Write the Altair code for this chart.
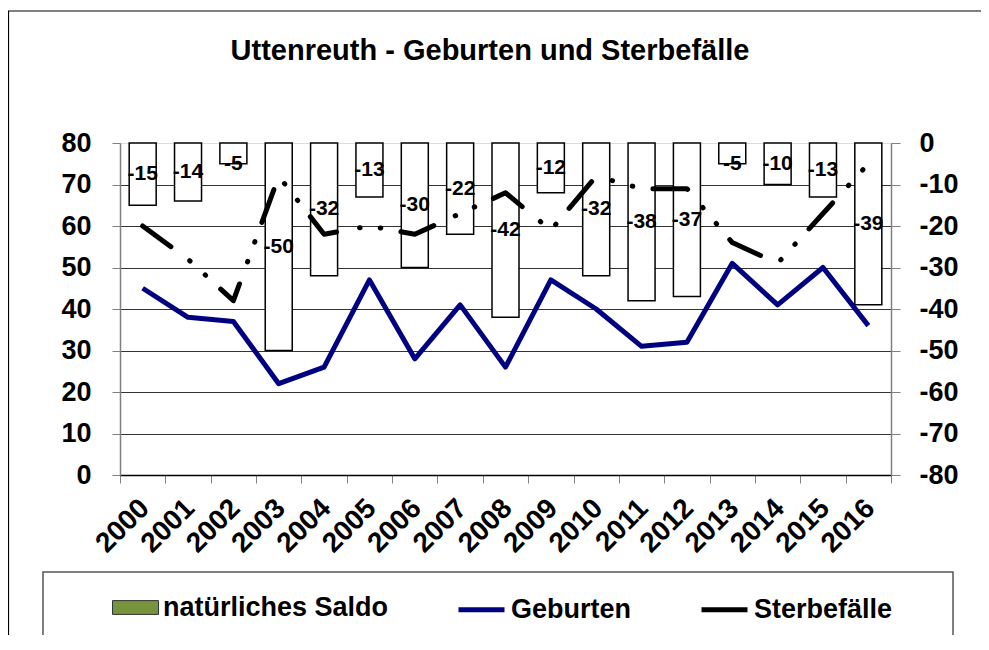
import altair as alt
import pandas as pd

# ---- data ----
jahre = ["2000", "2001", "2002", "2003", "2004", "2005", "2006", "2007", "2008",
         "2009", "2010", "2011", "2012", "2013", "2014", "2015", "2016"]
geburten = [45, 38, 37, 22, 26, 47, 28, 41, 26, 47, 40, 31, 32, 51, 41, 50, 36]
sterbefaelle = [60, 52, 42, 72, 58, 60, 58, 63, 68, 59, 72, 69, 69, 56, 51, 63, 75]
saldo = [-15, -14, -5, -50, -32, -13, -30, -22, -42, -12, -32, -38, -37, -5, -10, -13, -39]
saldo_name = ["natürliches Saldo"]
saldo_farbe = ["#77933C"]
linien = ["Geburten", "Sterbefälle"]
linien_farben = ["#000080", "#000000"]
links_ticks = [0, 10, 20, 30, 40, 50, 60, 70, 80]
rechts_ticks = [-80, -70, -60, -50, -40, -30, -20, -10, 0]
titel = "Uttenreuth  - Geburten und Sterbefälle"

df = pd.DataFrame({"Jahr": jahre, "Geburten": geburten,
                   "Sterbefaelle": sterbefaelle, "Saldo": saldo})

FONT = "Liberation Sans"
W, H = 771, 332

x_enc = alt.X(
    "Jahr:N", title=None, sort=jahre,
    scale=alt.Scale(paddingInner=0, paddingOuter=0),
    axis=alt.Axis(labelAngle=-45, labelAlign="right", labelBaseline="top",
                  labelFont=FONT, labelFontSize=28, labelFontWeight="bold",
                  labelColor="black", labelPadding=11, labelOffset=-8,
                  labelOverlap=False,
                  tickBand="extent", tickSize=8, tickColor="#808080",
                  domainColor="black", domainWidth=1.5, grid=False),
)

right_scale = alt.Scale(domain=[-80, 0], nice=False)
left_scale = alt.Scale(domain=[0, 80], nice=False)

right_axis = alt.Axis(orient="right", values=rechts_ticks,
                      labelExpr="'' + datum.value",
                      labelFont=FONT, labelFontSize=27, labelFontWeight="bold",
                      labelColor="black", labelPadding=19, tickSize=9,
                      tickColor="#808080", domainColor="#808080",
                      domainWidth=1.5, grid=False)

left_axis = alt.Axis(orient="left", values=links_ticks,
                     labelFont=FONT, labelFontSize=27, labelFontWeight="bold",
                     labelColor="black", labelPadding=21, tickSize=8,
                     tickColor="#808080", domainColor="#808080",
                     domainWidth=1.5, grid=True, gridColor="#333333",
                     gridWidth=1,
                     gridOpacity={"condition": {"test": "datum.value === 80 || datum.value === 0", "value": 0}, "value": 1})

bars = alt.Chart(df).mark_bar(
    fill="white", stroke="black", strokeWidth=1.5, size=27
).encode(
    x=x_enc,
    y=alt.Y("Saldo:Q", title=None, scale=right_scale, axis=right_axis),
)

# invisible copy of the bars that only carries the legend entry
bars_legend = alt.Chart(df).transform_calculate(Serie="'natürliches Saldo'").mark_bar(
    opacity=0, size=27
).encode(
    x=x_enc,
    y=alt.Y("Saldo:Q", title=None, scale=right_scale, axis=right_axis),
    fill=alt.Fill("Serie:N", scale=alt.Scale(domain=saldo_name, range=saldo_farbe),
                  legend=alt.Legend(
                      title=None, orient="none", legendX=-8, legendY=441,
                      labelFont=FONT, labelFontSize=27, labelFontWeight="bold",
                      labelColor="black", labelLimit=600, labelOffset=4,
                      symbolType="M-1,-0.3H1V0.3H-1Z", symbolSize=2116,
                      symbolStrokeColor="#333333", symbolStrokeWidth=1,
                      symbolOpacity=1, padding=0)),
)

labels = alt.Chart(df).transform_calculate(
    mid="min(datum.Saldo / 2, -5)", lbl="'' + datum.Saldo"
).mark_text(
    font=FONT, fontSize=21, fontWeight="bold", color="black", baseline="middle"
).encode(
    x=x_enc,
    y=alt.Y("mid:Q", title=None, scale=right_scale, axis=right_axis),
    text="lbl:N",
)

line_legend = alt.Legend(
    title=None, orient="none", legendX=336, legendY=441,
    direction="horizontal", columns=2, columnPadding=59,
    labelFont=FONT, labelFontSize=27, labelFontWeight="bold",
    labelColor="black", labelLimit=600, labelOffset=4,
    symbolSize=2116, symbolStrokeWidth=5, symbolType="stroke",
    symbolDash=[1, 0], padding=0,
)

color_enc = alt.Color("Serie:N", scale=alt.Scale(domain=linien, range=linien_farben),
                      legend=line_legend)

geb = alt.Chart(df).transform_calculate(Serie="'Geburten'").mark_line(
    strokeWidth=5, strokeJoin="round"
).encode(
    x=x_enc,
    y=alt.Y("Geburten:Q", title=None, scale=left_scale, axis=left_axis),
    color=color_enc,
)

ster = alt.Chart(df).transform_calculate(Serie="'Sterbefälle'").mark_line(
    strokeWidth=5, strokeCap="round", strokeJoin="round",
    strokeDash=[35, 23.5, 0.5, 20.5, 0.5, 20.5]
).encode(
    x=x_enc,
    y=alt.Y("Sterbefaelle:Q", title=None, scale=left_scale, axis=left_axis),
    color=color_enc,
)

frame_data = pd.DataFrame({"t": [titel]})
outer = alt.Chart(frame_data).mark_rect(
    fillOpacity=0, stroke="black", strokeWidth=1.2
).encode(x=alt.value(-111.5), x2=alt.value(900), y=alt.value(-132), y2=alt.value(700))

legend_box = alt.Chart(frame_data).mark_rect(
    fillOpacity=0, stroke="#555555", strokeWidth=1.5
).encode(x=alt.value(-77), x2=alt.value(833), y=alt.value(429), y2=alt.value(493))

title_mark = alt.Chart(frame_data).mark_text(
    font=FONT, fontSize=29, fontWeight="bold", color="black",
    align="center", baseline="alphabetic"
).encode(x=alt.value(370), y=alt.value(-83), text="t:N")

chart = alt.layer(
    alt.layer(outer, legend_box, title_mark, bars, bars_legend, labels),
    alt.layer(geb, ster),
).resolve_scale(y="independent").properties(
    width=W, height=H,
    autosize=alt.AutoSizeParams(type="none"),
    padding={"left": 112, "top": 135, "right": 90, "bottom": 160},
).configure_view(stroke=None).configure(background="white")

chart.save("out.html", embed_options={"renderer": "svg", "actions": False})
